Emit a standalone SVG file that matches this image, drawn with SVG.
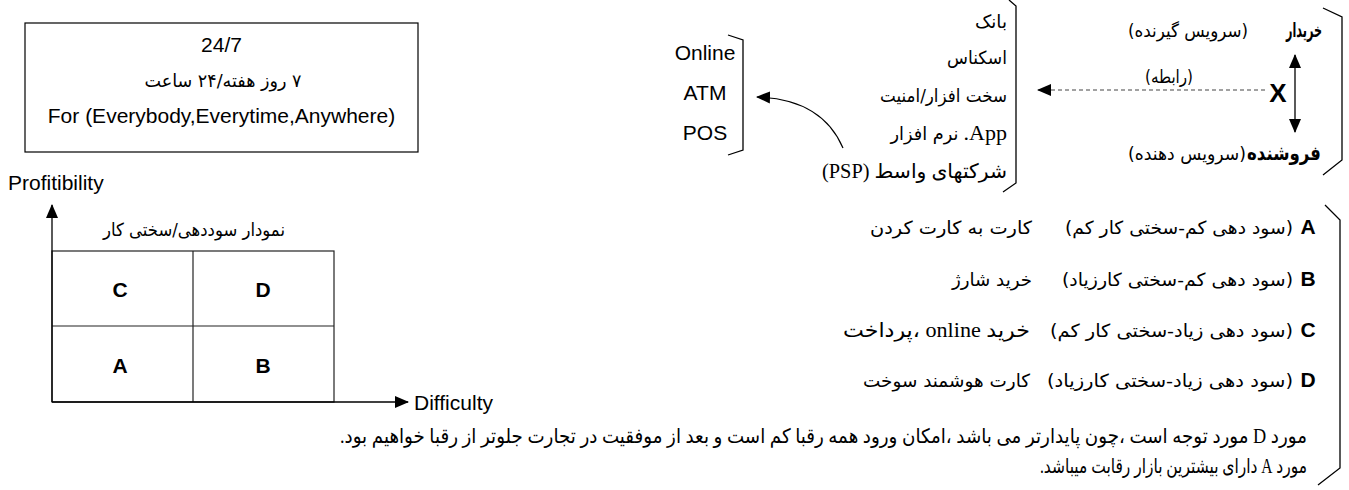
<svg xmlns="http://www.w3.org/2000/svg" width="1349" height="490" viewBox="0 0 1349 490">
<style>
.lat{font-family:"Liberation Sans",Arial,sans-serif;font-size:21px;fill:#000}
.latb{font-family:"Liberation Sans",Arial,sans-serif;font-size:21px;font-weight:bold;fill:#000}
.fa{font-family:"DejaVu Sans",sans-serif;font-size:18px;fill:#000}
.fs{font-family:"Liberation Serif","DejaVu Sans",serif;font-size:20px;fill:#000}
.fab{font-family:"DejaVu Sans",sans-serif;font-size:20px;font-weight:bold;fill:#000}
.ser{font-family:"Liberation Serif","Times New Roman",serif;font-size:22px;fill:#000}
.ln{fill:none;stroke:#000;stroke-width:1.3}
.grid{fill:none;stroke:#222;stroke-width:1.2}
</style>
<defs>
<marker id="ah" markerUnits="userSpaceOnUse" markerWidth="14" markerHeight="14" viewBox="0 0 14 14" refX="13" refY="7" orient="auto-start-reverse">
<path d="M0,1 L14,7 L0,13 Z" fill="#000"/>
</marker>
</defs>

<g id="box247">
<rect x="25" y="23" width="393" height="129" fill="none" stroke="#000" stroke-width="1.2"/>
<text class="lat" x="221.5" y="52" text-anchor="middle">24/7</text>
<text class="fa" x="223" y="87" text-anchor="middle" direction="rtl" textLength="157" lengthAdjust="spacingAndGlyphs">۷ روز هفته/۲۴ ساعت</text>
<text class="lat" x="221.5" y="123" text-anchor="middle">For (Everybody,Everytime,Anywhere)</text>
</g>

<g id="chart">
<text class="lat" x="8" y="190">Profitibility</text>
<text class="fa" x="194" y="236" text-anchor="middle" direction="rtl" textLength="182" lengthAdjust="spacingAndGlyphs">نمودار سوددهی/سختی کار</text>
<rect class="grid" x="52" y="251" width="282" height="151"/>
<line class="grid" x1="193" y1="251" x2="193" y2="402"/>
<line class="grid" x1="52" y1="326" x2="334" y2="326"/>
<text class="latb" x="120" y="297" text-anchor="middle">C</text>
<text class="latb" x="263" y="297" text-anchor="middle">D</text>
<text class="latb" x="120" y="373" text-anchor="middle">A</text>
<text class="latb" x="263" y="373" text-anchor="middle">B</text>
<text class="lat" x="414" y="410">Difficulty</text>
</g>

<g id="channels">
<text class="lat" x="705" y="60" text-anchor="middle">Online</text>
<text class="lat" x="705" y="100" text-anchor="middle">ATM</text>
<text class="lat" x="705" y="140" text-anchor="middle">POS</text>
<path class="ln" d="M728,35 L743,40 L743,150 L728,155"/>
</g>

<g id="providers">
<text class="fa" x="991" y="28" text-anchor="middle" direction="rtl" textLength="32" lengthAdjust="spacingAndGlyphs">بانک</text>
<text class="fa" x="977" y="64" text-anchor="middle" direction="rtl" textLength="60" lengthAdjust="spacingAndGlyphs">اسکناس</text>
<text class="fa" x="943.5" y="102" text-anchor="middle" direction="rtl" textLength="127" lengthAdjust="spacingAndGlyphs">سخت افزار/امنیت</text>
<text class="fa" x="924.5" y="140" text-anchor="middle" direction="rtl" textLength="68" lengthAdjust="spacingAndGlyphs">نرم افزار</text>
<text class="ser" x="1007" y="140" text-anchor="end">.App</text>
<text class="fs" x="914.5" y="178" text-anchor="middle" direction="rtl" textLength="185" lengthAdjust="spacingAndGlyphs">شرکتهای واسط (PSP)</text>
<path class="ln" d="M1009,0 L1016,6 L1016,183 L1003,192"/>
</g>

<g id="parties">
<text class="fab" x="1304" y="37" text-anchor="middle" direction="rtl" textLength="36" lengthAdjust="spacingAndGlyphs">خریدار</text>
<text class="fa" x="1188" y="37" text-anchor="middle" direction="rtl" textLength="120" lengthAdjust="spacingAndGlyphs">(سرویس گیرنده)</text>
<text class="fab" x="1284" y="160" text-anchor="middle" direction="rtl" textLength="74" lengthAdjust="spacingAndGlyphs">فروشنده</text>
<text class="fa" x="1187" y="160" text-anchor="middle" direction="rtl" textLength="118" lengthAdjust="spacingAndGlyphs">(سرویس دهنده)</text>
<text class="latb" x="1278" y="102" text-anchor="middle" style="font-size:26px">X</text>
<text class="fa" x="1169" y="83" text-anchor="middle" direction="rtl" textLength="48" lengthAdjust="spacingAndGlyphs">(رابطه)</text>
<path class="ln" d="M1323,8 L1342,17 L1342,160 L1323,175"/>
</g>

<g id="cases">
<text class="latb" x="1308" y="234" text-anchor="middle">A</text>
<text class="latb" x="1308" y="286" text-anchor="middle">B</text>
<text class="latb" x="1308" y="337" text-anchor="middle">C</text>
<text class="latb" x="1308" y="387" text-anchor="middle">D</text>
<text class="fa" x="1179" y="234" text-anchor="middle" direction="rtl" textLength="228" lengthAdjust="spacingAndGlyphs">(سود دهی کم-سختی کار کم)</text>
<text class="fa" x="1177.5" y="286" text-anchor="middle" direction="rtl" textLength="231" lengthAdjust="spacingAndGlyphs">(سود دهی کم-سختی کارزیاد)</text>
<text class="fa" x="1171.5" y="337" text-anchor="middle" direction="rtl" textLength="243" lengthAdjust="spacingAndGlyphs">(سود دهی زیاد-سختی کار کم)</text>
<text class="fa" x="1170" y="387" text-anchor="middle" direction="rtl" textLength="246" lengthAdjust="spacingAndGlyphs">(سود دهی زیاد-سختی کارزیاد)</text>
<text class="fa" x="951" y="234" text-anchor="middle" direction="rtl" textLength="162" lengthAdjust="spacingAndGlyphs">کارت به کارت کردن</text>
<text class="fa" x="992" y="286" text-anchor="middle" direction="rtl" textLength="80" lengthAdjust="spacingAndGlyphs">خرید شارژ</text>
<text class="fs" x="936.5" y="337" text-anchor="middle" direction="rtl" textLength="187" lengthAdjust="spacingAndGlyphs">خرید online ،پرداخت</text>
<text class="fa" x="946.5" y="387" text-anchor="middle" direction="rtl" textLength="167" lengthAdjust="spacingAndGlyphs">کارت هوشمند سوخت</text>
<path class="ln" d="M1325,205 L1340,220 L1340,468 L1318,485"/>
</g>

<g id="notes">
<text class="fs" x="823.5" y="443" text-anchor="middle" direction="rtl" textLength="967" lengthAdjust="spacingAndGlyphs">مورد D مورد توجه است ،چون پایدارتر می باشد ،امکان ورود همه رقبا کم است و بعد از موفقیت در تجارت جلوتر از رقبا خواهیم بود.</text>
<text class="fs" x="1173.5" y="473" text-anchor="middle" direction="rtl" textLength="267" lengthAdjust="spacingAndGlyphs">مورد A دارای بیشترین بازار رقابت میباشد.</text>
</g>

<g id="connectors">
<line x1="52" y1="402" x2="52" y2="205" stroke="#000" stroke-width="1.3" marker-end="url(#ah)"/>
<line x1="52" y1="402" x2="408" y2="402" stroke="#000" stroke-width="1.3" marker-end="url(#ah)"/>
<path d="M843,148 Q822,99 757,97" fill="none" stroke="#000" stroke-width="1.2" marker-end="url(#ah)"/>
<line x1="1265" y1="90" x2="1038" y2="90" stroke="#444" stroke-width="1.2" stroke-dasharray="4,3" marker-end="url(#ah)"/>
<line x1="1295" y1="55" x2="1295" y2="132" stroke="#000" stroke-width="1.3" marker-start="url(#ah)" marker-end="url(#ah)"/>
</g>
</svg>
